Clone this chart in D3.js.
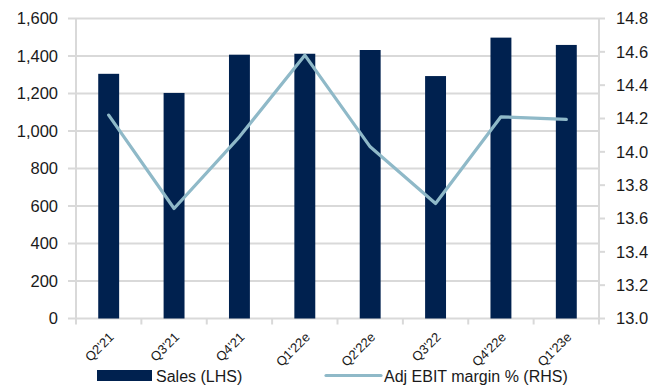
<!DOCTYPE html>
<html>
<head>
<meta charset="utf-8">
<script src="https://cdn.jsdelivr.net/npm/d3@7"></script>
<style>
  html, body { margin: 0; padding: 0; background: #fff; }
  svg { display: block; font-family: "Liberation Sans", Arial, sans-serif; }
</style>
</head>
<body>
<svg id="chart" width="665" height="387"></svg>
<script>
// Quarterly sales (left axis) and adjusted EBIT margin (right axis)
const quarters = ["Q2'21", "Q3'21", "Q4'21", "Q1'22e", "Q2'22e", "Q3'22", "Q4'22e", "Q1'23e"];
const sales = [1305, 1203, 1407, 1412, 1432, 1293, 1498, 1459];
const ebitMargin = [14.22, 13.66, 14.09, 14.58, 14.03, 13.69, 14.21, 14.195];
const leftTicks = [0, 200, 400, 600, 800, 1000, 1200, 1400, 1600];
const rightTicks = [13.0, 13.2, 13.4, 13.6, 13.8, 14.0, 14.2, 14.4, 14.6, 14.8];
const seriesNames = ["Sales (LHS)", "Adj EBIT margin % (RHS)"];

const barColor = "#00214f";
const lineColor = "#8fb9c8";
const gridColor = "#d9d9d9";

const svg = d3.select("#chart");
const m = { left: 76, right: 599, top: 18.5, bottom: 318.5 };

const x = d3.scaleBand().domain(quarters).range([m.left, m.right])
  .paddingInner(0.68).paddingOuter(0.34);
const yL = d3.scaleLinear().domain([0, 1600]).range([m.bottom, m.top]);
const yR = d3.scaleLinear().domain([13.0, 14.8]).range([m.bottom, m.top]);

// Horizontal gridlines with outward ticks on the left axis
svg.append("g").selectAll("line").data(leftTicks).join("line")
  .attr("x1", m.left - 8).attr("x2", m.right)
  .attr("y1", d => yL(d)).attr("y2", d => yL(d))
  .attr("stroke", gridColor).attr("stroke-width", 2);

// Axis lines
svg.append("line").attr("x1", m.left).attr("x2", m.left)
  .attr("y1", m.top).attr("y2", m.bottom + 5)
  .attr("stroke", gridColor).attr("stroke-width", 2);
svg.append("line").attr("x1", m.right).attr("x2", m.right)
  .attr("y1", m.top).attr("y2", m.bottom + 5)
  .attr("stroke", gridColor).attr("stroke-width", 2);

// Right axis tick marks
svg.append("g").selectAll("line").data(rightTicks).join("line")
  .attr("x1", m.right).attr("x2", m.right + 6)
  .attr("y1", d => yR(d)).attr("y2", d => yR(d))
  .attr("stroke", gridColor).attr("stroke-width", 2);

// Category boundary ticks on the bottom axis
const step = x.step();
svg.append("g").selectAll("line").data(d3.range(quarters.length + 1)).join("line")
  .attr("x1", i => m.left + i * step).attr("x2", i => m.left + i * step)
  .attr("y1", m.bottom).attr("y2", m.bottom + 6)
  .attr("stroke", gridColor).attr("stroke-width", 2);

// Bars
svg.append("g").selectAll("rect").data(quarters).join("rect")
  .attr("x", d => x(d))
  .attr("width", x.bandwidth())
  .attr("y", (d, i) => yL(sales[i]))
  .attr("height", (d, i) => yL(0) - yL(sales[i]))
  .attr("fill", barColor);

// Margin line
const line = d3.line()
  .x((d, i) => x(quarters[i]) + x.bandwidth() / 2)
  .y(d => yR(d));
svg.append("path").datum(ebitMargin)
  .attr("d", line)
  .attr("fill", "none")
  .attr("stroke", lineColor)
  .attr("stroke-width", 3.2)
  .attr("stroke-linejoin", "round")
  .attr("stroke-linecap", "round");

// Left tick labels
svg.append("g").selectAll("text").data(leftTicks).join("text")
  .attr("x", 58).attr("y", d => yL(d))
  .attr("dy", "0.36em")
  .attr("text-anchor", "end")
  .attr("font-size", 16.5).attr("fill", "#1a1a1a")
  .text(d => d3.format(",")(d));

// Right tick labels
svg.append("g").selectAll("text").data(rightTicks).join("text")
  .attr("x", 616).attr("y", d => yR(d))
  .attr("dy", "0.36em")
  .attr("text-anchor", "start")
  .attr("font-size", 16.5).attr("fill", "#1a1a1a")
  .text(d => d.toFixed(1));

// Rotated category labels
svg.append("g").selectAll("text").data(quarters).join("text")
  .attr("transform", d => `translate(${x(d) + x.bandwidth() / 2 + 6},338) rotate(-45)`)
  .attr("text-anchor", "end")
  .attr("font-size", 13).attr("fill", "#1a1a1a")
  .text(d => d);

// Legend
const legend = svg.append("g");
legend.append("rect").attr("x", 97).attr("y", 370).attr("width", 55).attr("height", 11)
  .attr("fill", barColor);
legend.append("text").attr("x", 156).attr("y", 381.5)
  .attr("font-size", 16).attr("fill", "#1a1a1a").text(seriesNames[0]);
legend.append("line").attr("x1", 326).attr("x2", 381).attr("y1", 375.5).attr("y2", 375.5)
  .attr("stroke", lineColor).attr("stroke-width", 3.2).attr("stroke-linecap", "round");
legend.append("text").attr("x", 384).attr("y", 381.5)
  .attr("font-size", 16).attr("fill", "#1a1a1a").text(seriesNames[1]);
</script>
</body>
</html>
